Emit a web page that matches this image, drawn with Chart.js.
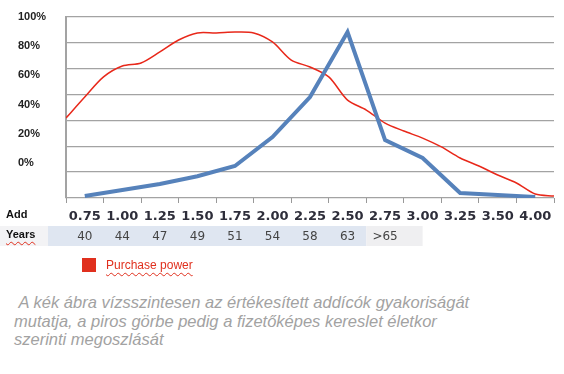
<!DOCTYPE html>
<html>
<head>
<meta charset="utf-8">
<script src="https://cdn.jsdelivr.net/npm/chart.js@4/dist/chart.umd.min.js"></script>
<style>
  body { margin: 0; background: #fff; }
  #wrap { position: relative; width: 564px; height: 374px; }
  #chart { position: absolute; left: 0; top: 0; }
  .rowhead { position: absolute; left: 6px; font: bold 11px "Liberation Sans", Arial, sans-serif; color: #111; }
  #years { text-decoration: underline wavy #e0301e; text-decoration-thickness: 1px; text-underline-offset: 3px; }
  #legend { position: absolute; left: 82px; top: 258px; font: 12px "Liberation Sans", Arial, sans-serif; color: #e0301e; }
  #legend span.box { display: inline-block; width: 14px; height: 14px; background: #e0301e; vertical-align: -3px; margin-right: 10px; }
  #legend span.txt { text-decoration: underline wavy #e0301e; text-decoration-thickness: 1px; text-underline-offset: 3px; }
  #caption { position: absolute; left: 14px; top: 293px; font: italic 16.5px "Liberation Sans", Arial, sans-serif; line-height: 18.5px; color: #a2a2a2; }
</style>
</head>
<body>
<div id="wrap">
  <canvas id="chart"></canvas>
  <div class="rowhead" style="top:208px">Add</div>
  <div class="rowhead" id="years" style="top:228px">Years</div>
  <div id="legend"><span class="box"></span><span class="txt">Purchase power</span></div>
  <div id="caption">&nbsp;A kék ábra vízsszintesen az értékesített addícók gyakoriságát<br>mutatja, a piros görbe pedig a fizetőképes kereslet életkor<br>szerinti megoszlását</div>
</div>
<script>
const addLabels = ["0.75", "1.00", "1.25", "1.50", "1.75", "2.00", "2.25", "2.50", "2.75", "3.00", "3.25", "3.50", "4.00"];
const yearLabels = ["40", "44", "47", "49", "51", "54", "58", "63", ">65", "", "", "", ""];
const pctTicks = [0, 20, 40, 60, 80, 100];

// blue: sold add-ons, one value per category
const salesValues = [1.1, 4.4, 7.7, 12.0, 17.7, 33.7, 55.8, 91.7, 32.0, 22.1, 2.8, 1.7, 0.6];

// red: purchase power, sampled along the axis (0 = left edge, 13 = right edge)
const powerX = [0, 0.5, 1, 1.5, 2, 2.5, 3, 3.5, 4, 4.5, 5, 5.5, 6, 6.5, 7, 7.5, 8, 8.5, 9, 9.5, 10, 10.5, 11, 11.5, 12, 12.5, 13];
const powerValues = [44.2, 55.8, 66.9, 72.9, 74.6, 80.7, 87.3, 91.2, 91.2, 91.7, 91.2, 86.2, 76.2, 72.4, 66.9, 54.1, 48.6, 41.4, 37.0, 33.1, 28.2, 22.1, 17.7, 12.7, 8.3, 2.2, 1.1];

const canvas = document.getElementById("chart");
canvas.width = 564;
canvas.height = 250;

const yearsBand = {
    id: "yearsBand",
    beforeDraw(chart) {
        const ctx = chart.ctx;
        const x = chart.scales.x;
        const yr = chart.scales.xYears;
        const h = yr.bottom - yr.top;
        const start = chart.chartArea.left - 18;
        const mid = (x.getPixelForValue(7) + x.getPixelForValue(8)) / 2;
        const end = x.getPixelForValue(9);
        ctx.save();
        ctx.fillStyle = "#f3f3f5";
        ctx.fillRect(0, yr.top, start, h);
        ctx.fillStyle = "#dfe6f1";
        ctx.fillRect(start, yr.top, mid - start, h);
        ctx.fillStyle = "#efeff1";
        ctx.fillRect(mid, yr.top, end - mid, h);
        ctx.restore();
    }
};

new Chart(canvas, {
    type: "line",
    data: {
        labels: addLabels,
        datasets: [
            {
                label: "Sold add-ons",
                data: salesValues,
                xAxisID: "x",
                yAxisID: "y",
                borderColor: "#5682bb",
                borderWidth: 4,
                pointRadius: 0,
                tension: 0
            },
            {
                label: "Purchase power",
                data: powerX.map((v, i) => ({ x: v, y: powerValues[i] })),
                xAxisID: "xr",
                yAxisID: "y",
                borderColor: "#e8281a",
                borderWidth: 1.5,
                pointRadius: 0,
                tension: 0.3
            }
        ]
    },
    options: {
        responsive: false,
        animation: false,
        layout: { padding: { left: 18, right: 10, top: 17, bottom: 4 } },
        plugins: { legend: { display: false }, tooltip: { enabled: false } },
        scales: {
            x: {
                type: "category",
                position: "bottom",
                offset: true,
                weight: 0,
                grid: { offset: true, drawOnChartArea: false, drawTicks: true, tickLength: 5, color: "#999" },
                border: { display: false },
                ticks: { padding: 6, color: "#2e2e3a", font: { family: "DejaVu Sans", size: 13, weight: "bold" }, autoSkip: false, maxRotation: 0 },
                afterFit: axis => { axis.height = 28; }
            },
            xYears: {
                type: "category",
                labels: yearLabels,
                position: "bottom",
                offset: true,
                weight: 1,
                grid: { display: false, drawTicks: false },
                border: { display: false },
                ticks: { padding: 4, color: "#444", font: { family: "DejaVu Sans", size: 12 }, autoSkip: false, maxRotation: 0 },
                afterFit: axis => { axis.height = 20; }
            },
            xr: {
                type: "linear",
                display: false,
                min: 0,
                max: 13
            },
            y: {
                position: "left",
                min: 0,
                max: 100,
                weight: 0,
                afterBuildTicks: axis => { axis.ticks = [0, 1, 2, 3, 4, 5, 6, 7].map(i => ({ value: i * 100 / 7 })); },
                grid: { color: "#a3a3a3", lineWidth: 1.3, drawTicks: false },
                border: { display: true, color: "#a3a3a3", width: 2 },
                ticks: { display: false },
                afterFit: axis => { axis.width = 0; }
            },
            yPct: {
                position: "left",
                min: -23.9,
                max: 100,
                weight: 1,
                afterBuildTicks: axis => { axis.ticks = pctTicks.map(v => ({ value: v })); },
                grid: { display: false },
                border: { display: false },
                ticks: {
                    crossAlign: "far",
                    color: "#222",
                    font: { family: "Liberation Sans", size: 11, weight: "bold" },
                    callback: v => v + "%"
                },
                afterFit: axis => { axis.width = 48; }
            }
        }
    },
    plugins: [yearsBand]
});
</script>
</body>
</html>
